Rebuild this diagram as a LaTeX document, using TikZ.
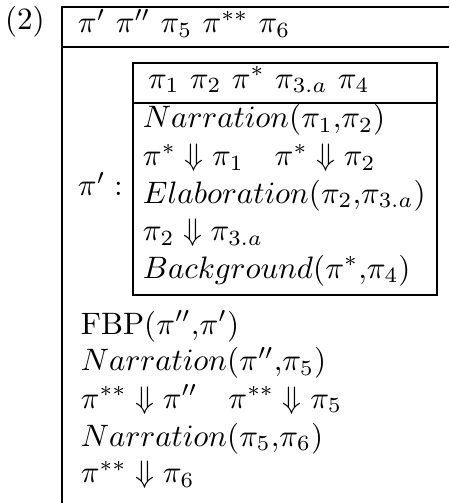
\documentclass[tikz,border=0pt]{standalone}
\usepackage{amsmath, amssymb}

\begin{document}
\begin{tikzpicture}[
	outerline/.style={line width=0.9pt},
	innerline/.style={line width=0.65pt},
	row/.style={anchor=base west, inner sep=0pt, outer sep=0pt}]
	\useasboundingbox (0, 0) rectangle (5.091, 5.703);
	% Outer box (open to the right and below):
	\draw[outerline] (5.091, 5.624) -| (0.703, 0);
	\draw[outerline] (0.703, 5.170) -- (5.091, 5.170);
	\node[row](num) at (0.057, 5.374){(2)};
	\node[row](hdr) at (0.884, 5.329){$\pi'\ \pi''\ \pi_5\ \pi^{**}\ \pi_6$};
	% Inner box for pi':
	\draw[innerline] (1.508, 4.989) rectangle (4.955, 2.358);
	\draw[innerline] (1.508, 4.535) -- (4.955, 4.535);
	\node[row](lbl) at (0.884, 3.481){$\pi' :$};
	\node[row](subhdr) at (1.678, 4.705){$\pi_1\ \pi_2\ \pi^*\ \pi_{3.a}\ \pi_4$};
	\node[row](r1) at (1.621, 4.252){$Narration(\pi_1{,}\pi_2)$};
	\node[row](r2) at (1.621, 3.827){$\pi^* \Downarrow \pi_1 \quad \pi^* \Downarrow \pi_2$};
	\node[row](r3) at (1.621, 3.401){$Elaboration(\pi_2{,}\pi_{3.a})$};
	\node[row](r4) at (1.621, 2.976){$\pi_2 \Downarrow \pi_{3.a}$};
	\node[row](r5) at (1.621, 2.551){$Background(\pi^*{,}\pi_4)$};
	% Conditions of the outer box:
	\node[row](c1) at (0.918, 1.916){$\mathrm{FBP}(\pi''{,}\pi')$};
	\node[row](c2) at (0.918, 1.497){$Narration(\pi''{,}\pi_5)$};
	\node[row](c3) at (0.918, 1.077){$\pi^{**} \Downarrow \pi'' \quad \pi^{**} \Downarrow \pi_5$};
	\node[row](c4) at (0.918, 0.646){$Narration(\pi_5{,}\pi_6)$};
	\node[row](c5) at (0.918, 0.227){$\pi^{**} \Downarrow \pi_6$};
\end{tikzpicture}
\end{document}
